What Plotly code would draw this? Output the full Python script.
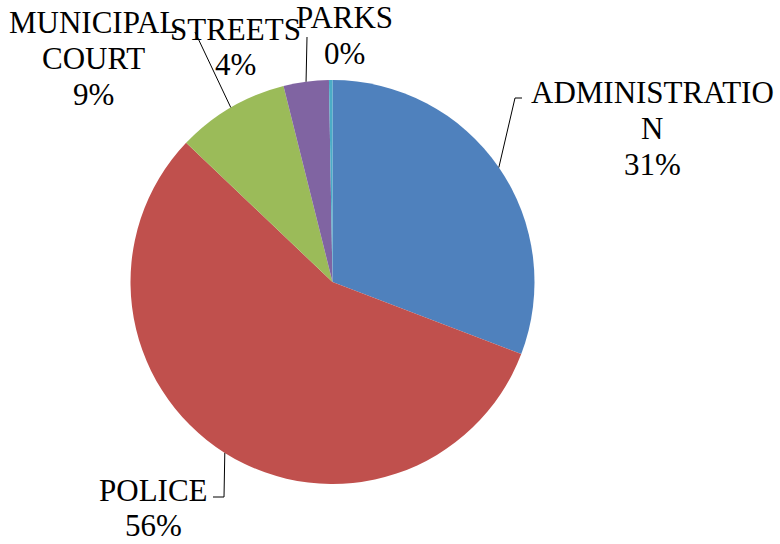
import math
import plotly.graph_objects as go

# ---- data ----
categories = ["ADMINISTRATION", "POLICE", "MUNICIPAL COURT", "STREETS", "PARKS"]
values = [30.8, 56.3, 9.0, 3.62, 0.28]
colors = ["#4F81BD", "#C0504D", "#9BBB59", "#8064A2", "#4BACC6"]

W, H = 780, 544
CX, CY, R = 332.5, 282.0, 202.0
FONT = "'Times New Roman', 'Liberation Serif', 'DejaVu Serif', serif"
FS = 31

def px(x):
    return x / W

def py(y):
    return 1 - y / H

total = sum(values)
pcts = [v / total * 100 for v in values]

fig = go.Figure(go.Pie(
    labels=categories, values=values, sort=False, direction="clockwise",
    rotation=0, textinfo="none", hoverinfo="label+percent",
    marker=dict(colors=colors, line=dict(width=0)),
    domain=dict(x=[px(CX - R - 40), px(CX + R + 40)], y=[py(CY + R), py(CY - R)]),
    showlegend=False,
))

# label layout: (lines of label, center x, line center ys)
label_lines = {
    "ADMINISTRATION": (["ADMINISTRATIO", "N"], 652, [91, 127, 163]),
    "POLICE": (["POLICE"], 153, [488, 523]),
    "MUNICIPAL COURT": (["MUNICIPAL", "COURT"], 93, [21, 57, 93]),
    "STREETS": (["STREETS"], 235, [27, 62]),
    "PARKS": (["PARKS"], 344, [16, 52]),
}

annotations = []
for cat, p in zip(categories, pcts):
    lines, x, ys = label_lines[cat]
    texts = lines + [f"{round(p):.0f}%"]
    for t, y in zip(texts, ys):
        annotations.append(dict(
            x=px(x), y=py(y + 2), xref="paper", yref="paper", text=t,
            showarrow=False, xanchor="center", yanchor="middle",
            font=dict(family=FONT, size=FS, color="black"),
        ))

# leader lines: start at slice mid-angle on the rim
cum = 0
mids = []
for p in pcts:
    mids.append((cum + p / 2) / 100 * 2 * math.pi)
    cum += p

def rim(a):
    return CX + R * math.sin(a), CY - R * math.cos(a)

leaders = {
    "ADMINISTRATION": [(515, 98), (522, 98)],
    "POLICE": [(224, 497), (213, 497)],
    "MUNICIPAL COURT": [(195, 32)],
    "STREETS": [(307, 37)],
}
shapes = []
for cat, a in zip(categories, mids):
    if cat not in leaders:
        continue
    sx, sy = rim(a)
    pts = [(sx, sy)] + leaders[cat]
    path = "M " + " L ".join(f"{px(x)},{py(y)}" for x, y in pts)
    shapes.append(dict(type="path", path=path, xref="paper", yref="paper",
                       line=dict(color="black", width=1)))

fig.update_layout(
    width=W, height=H, margin=dict(l=0, r=0, t=0, b=0),
    paper_bgcolor="white", plot_bgcolor="white",
    font=dict(family=FONT),
    annotations=annotations, shapes=shapes,
)

fig.write_html("out.html")
